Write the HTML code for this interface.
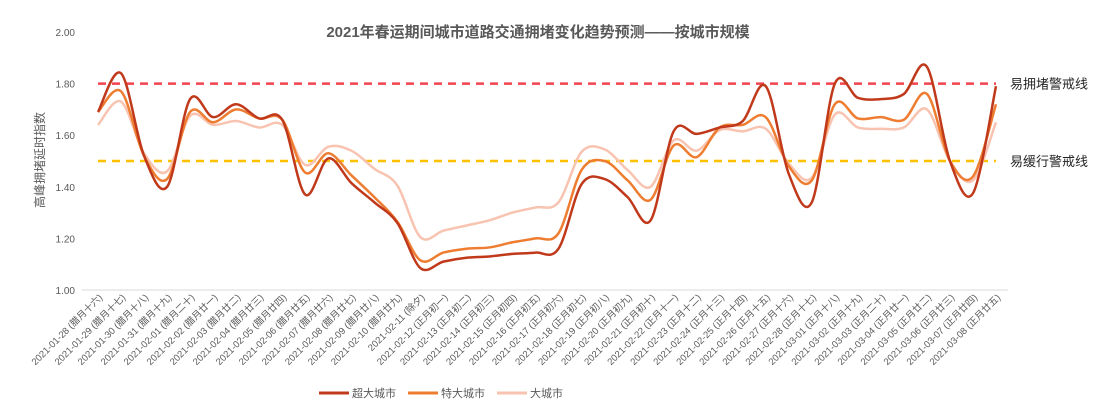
<!DOCTYPE html>
<html><head><meta charset="utf-8">
<style>
html,body{margin:0;padding:0;background:#fff;}
svg{display:block;font-family:"Liberation Sans","Noto Sans CJK SC",sans-serif;}
</style></head>
<body>
<svg id="chart" width="1113" height="413" viewBox="0 0 1113 413" xmlns="http://www.w3.org/2000/svg">
<text x="538" y="37" text-anchor="middle" font-size="15" font-weight="bold" fill="#595959">2021年春运期间城市道路交通拥堵变化趋势预测——按城市规模</text>
<text transform="translate(44,160) rotate(-90)" text-anchor="middle" font-size="12" fill="#595959">高峰拥堵延时指数</text>
<g id="yaxis"></g>
<g id="xaxis"></g>
<g id="refs"></g>
<g id="series"></g>
<g id="legend"></g>
</svg>
<script>
const dates = ["2021-01-28 (腊月十六)","2021-01-29 (腊月十七)","2021-01-30 (腊月十八)","2021-01-31 (腊月十九)","2021-02-01 (腊月二十)","2021-02-02 (腊月廿一)","2021-02-03 (腊月廿二)","2021-02-04 (腊月廿三)","2021-02-05 (腊月廿四)","2021-02-06 (腊月廿五)","2021-02-07 (腊月廿六)","2021-02-08 (腊月廿七)","2021-02-09 (腊月廿八)","2021-02-10 (腊月廿九)","2021-02-11 (除夕)","2021-02-12 (正月初一)","2021-02-13 (正月初二)","2021-02-14 (正月初三)","2021-02-15 (正月初四)","2021-02-16 (正月初五)","2021-02-17 (正月初六)","2021-02-18 (正月初七)","2021-02-19 (正月初八)","2021-02-20 (正月初九)","2021-02-21 (正月初十)","2021-02-22 (正月十一)","2021-02-23 (正月十二)","2021-02-24 (正月十三)","2021-02-25 (正月十四)","2021-02-26 (正月十五)","2021-02-27 (正月十六)","2021-02-28 (正月十七)","2021-03-01 (正月十八)","2021-03-02 (正月十九)","2021-03-03 (正月二十)","2021-03-04 (正月廿一)","2021-03-05 (正月廿二)","2021-03-06 (正月廿三)","2021-03-07 (正月廿四)","2021-03-08 (正月廿五)"];
const superCity = [1.69,1.84,1.52,1.40,1.74,1.67,1.72,1.665,1.66,1.37,1.51,1.415,1.34,1.26,1.085,1.11,1.125,1.13,1.14,1.145,1.16,1.41,1.43,1.36,1.27,1.615,1.605,1.63,1.655,1.79,1.45,1.34,1.80,1.745,1.74,1.76,1.865,1.50,1.375,1.79];
const megaCity = [1.69,1.77,1.52,1.43,1.69,1.65,1.70,1.665,1.66,1.455,1.53,1.445,1.36,1.265,1.115,1.145,1.16,1.165,1.185,1.20,1.22,1.465,1.50,1.425,1.35,1.56,1.515,1.63,1.64,1.67,1.48,1.425,1.72,1.665,1.67,1.66,1.76,1.50,1.44,1.72];
const largeCity = [1.64,1.73,1.53,1.46,1.675,1.64,1.655,1.63,1.64,1.485,1.555,1.54,1.47,1.405,1.205,1.23,1.25,1.27,1.30,1.32,1.34,1.535,1.545,1.465,1.40,1.58,1.54,1.62,1.615,1.625,1.49,1.435,1.68,1.63,1.625,1.63,1.70,1.50,1.425,1.65];
const yTicks = [1.00,1.20,1.40,1.60,1.80,2.00];
const refValues = [1.80,1.50];
const refLabels = ["易拥堵警戒线","易缓行警戒线"];
const seriesNames = ["超大城市","特大城市","大城市"];

const NS="http://www.w3.org/2000/svg";
const X0=98, X1=996, Y0=290, YPER=258; // px per 1.0
function xs(i){return X0+(X1-X0)*i/(dates.length-1);}
function ys(v){return Y0-(v-1)*YPER;}
function mk(tag,attrs,parent){const e=document.createElementNS(NS,tag);for(const k in attrs)e.setAttribute(k,attrs[k]);parent.appendChild(e);return e;}

const yg=document.getElementById('yaxis');
yTicks.forEach(t=>{
  const e=mk('text',{x:75,y:ys(t)+4,'text-anchor':'end','font-size':10,fill:'#595959'},yg);
  
  
  e.textContent=t.toFixed(2);
});
const base=mk('line',{x1:82,x2:1008,y1:Y0,y2:Y0,stroke:'#d9d9d9','stroke-width':1},yg);



const xg=document.getElementById('xaxis');
dates.forEach((d,i)=>{
  const x=xs(i)+5, y=298;
  const e=mk('text',{x:x,y:y,'text-anchor':'end','font-size':9.5,fill:'#595959',transform:`rotate(-45 ${x} ${y})`},xg);
  
  
  e.textContent=d;
});

const rg=document.getElementById('refs');
const refColors=['#f2434f','#ffc000'];
refValues.forEach((v,k)=>{
  const l=mk('line',{x1:X0,x2:X1,y1:ys(v),y2:ys(v),stroke:refColors[k],'stroke-width':2.5,'stroke-dasharray':'8,6'},rg);
  
  
  const t=mk('text',{x:1010,y:ys(v)+5,'font-size':13,fill:'#262626'},rg);
  
  
  t.textContent=refLabels[k];
});

function smoothPath(vals){
  const p=vals.map((v,i)=>[xs(i),ys(v)]);
  let d=`M${p[0][0]},${p[0][1]}`;
  for(let i=0;i<p.length-1;i++){
    const p0=p[Math.max(0,i-1)],p1=p[i],p2=p[i+1],p3=p[Math.min(p.length-1,i+2)];
    const c1=[p1[0]+(p2[0]-p0[0])/6,p1[1]+(p2[1]-p0[1])/6];
    const c2=[p2[0]-(p3[0]-p1[0])/6,p2[1]-(p3[1]-p1[1])/6];
    d+=` C${c1[0]},${c1[1]} ${c2[0]},${c2[1]} ${p2[0]},${p2[1]}`;
  }
  return d;
}
const sg=document.getElementById('series');
const allSeries=[largeCity,megaCity,superCity];
const colors=['#f8c3b0','#ee7d31','#c0391b'];
const names=['series-large-city','series-mega-city','series-super-city'];
allSeries.forEach((s,k)=>{
  const p=mk('path',{d:smoothPath(s),fill:'none',stroke:colors[k],'stroke-width':2.5,'stroke-linejoin':'round'},sg);
  
  
});

const lg=document.getElementById('legend');
const legColors=['#c0391b','#ee7d31','#f8c3b0'];
const legX=[319,408,497];
seriesNames.forEach((n,k)=>{
  const x=legX[k];
  const l=mk('line',{x1:x,x2:x+30,y1:393,y2:393,stroke:legColors[k],'stroke-width':3},lg);
  
  
  const t=mk('text',{x:x+33,y:397,'font-size':11,fill:'#595959'},lg);
  
  
  t.textContent=n;
});
</script>
</body></html>
